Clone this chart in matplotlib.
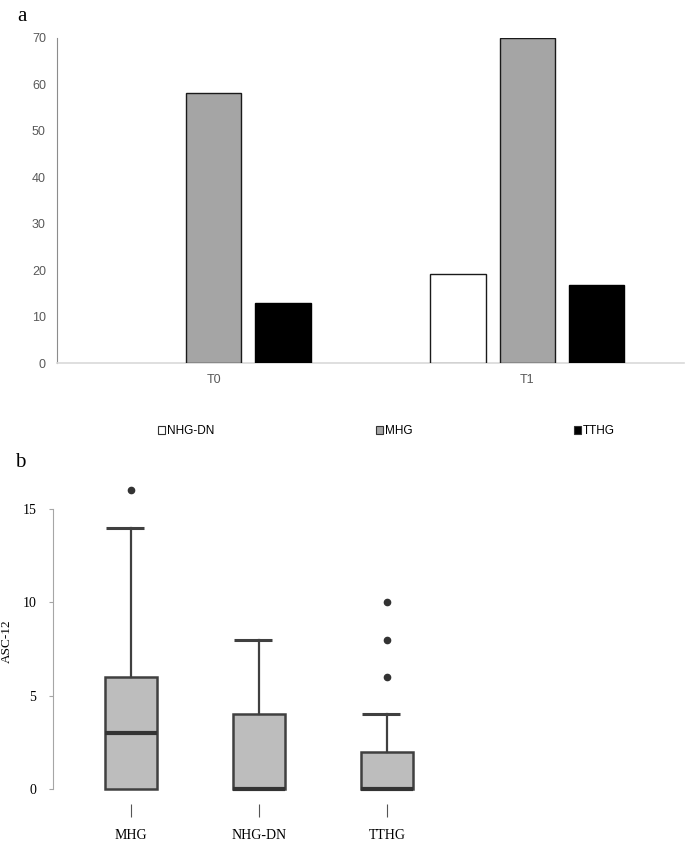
import numpy as np
import matplotlib.pyplot as plt
from matplotlib.patches import Patch

# panel a data
periods = ["T0", "T1"]
groups_a = ["NHG-DN", "MHG", "TTHG"]
nhg_dn = [0, 19.1]
mhg = [58.1, 70.0]
tthg = [13.0, 16.8]

# panel b data (box summaries)
groups_b = ["MHG", "NHG-DN", "TTHG"]
q1 = [0, 0, 0]
med = [3, 0, 0]
q3 = [6, 4, 2]
whis_lo = [0, 0, 0]
whis_hi = [14, 8, 4]
fliers = [[16], [], [6, 8, 10]]

sans = ["Liberation Sans", "DejaVu Sans"]
serif = ["Liberation Serif", "DejaVu Serif"]

fig = plt.figure(figsize=(6.85, 8.44), dpi=100)

# ---- panel a ----
ax = fig.add_axes([0.0832, 0.5699, 0.9153, 0.3851])
x = np.arange(len(periods))
w = 0.176
off = 0.221
fills = ["white", "#a5a5a5", "black"]
edges = ["#1a1a1a", "#1a1a1a", "black"]
series = [nhg_dn, mhg, tthg]
for i, (vals, fc, ec) in enumerate(zip(series, fills, edges)):
    lw = [1.0 if v > 0 else 0 for v in vals]
    ax.bar(x + (i - 1) * off, vals, width=w, color=fc, edgecolor=ec,
           linewidth=lw, label=groups_a[i], zorder=3)
ax.set_xlim(-0.5, 1.5)
ax.set_ylim(0, 70)
ax.set_yticks(range(0, 71, 10))
ax.set_xticks(x)
ax.set_xticklabels(periods)
for s in ["top", "right"]:
    ax.spines[s].set_visible(False)
ax.spines["left"].set_color("#8c8c8c")
ax.spines["bottom"].set_color("#d9d9d9")
ax.spines["bottom"].set_linewidth(1.2)
ax.tick_params(length=0, labelsize=9, labelcolor="#595959", pad=8)
for t in ax.get_xticklabels() + ax.get_yticklabels():
    t.set_family(sans)

handles = [Patch(facecolor=fc, edgecolor="#333333", linewidth=0.8) for fc in fills]
fig.legend(handles, groups_a, loc="center left", bbox_to_anchor=(0.231, 0.489),
           ncol=3, frameon=False, handlelength=0.6, handleheight=0.6,
           handletextpad=0.15, columnspacing=13.7, borderpad=0, borderaxespad=0,
           prop={"family": sans, "size": 8.5})

fig.text(0.025, 0.992, "a", family=serif, fontsize=15, va="top")
fig.text(0.022, 0.463, "b", family=serif, fontsize=15, va="top")

# ---- panel b ----
bx = fig.add_axes([0.0774, 0.0474, 0.92, 0.3939])
pos = np.arange(1, len(groups_b) + 1)
stats = []
for i, g in enumerate(groups_b):
    stats.append(dict(label=g, q1=q1[i], med=med[i], q3=q3[i],
                      whislo=whis_lo[i], whishi=whis_hi[i], fliers=fliers[i]))
line = "#404040"
bw = 0.405
bx.bxp(stats, positions=pos, widths=bw, patch_artist=True, showcaps=False,
       boxprops=dict(facecolor="#bdbdbd", edgecolor=line, linewidth=1.8),
       whiskerprops=dict(color=line, linewidth=1.6),
       medianprops=dict(color="#333333", linewidth=3),
       flierprops=dict(marker="o", markerfacecolor="#333333",
                       markeredgecolor="#333333", markersize=4.5))
# caps start at the box's left edge
for p, hi in zip(pos, whis_hi):
    bx.hlines(hi, p - bw / 2 + 0.01, p + 0.1, color=line, linewidth=2.2)

bx.set_xlim(0.393, 5.31)
bx.set_ylim(-0.8, 17)
bx.set_yticks([0, 5, 10, 15])
bx.spines["left"].set_bounds(0, 15)
bx.spines["left"].set_color("#a6a6a6")
for s in ["top", "right", "bottom"]:
    bx.spines[s].set_visible(False)
bx.tick_params(axis="y", length=3, color="#a6a6a6", labelsize=10, pad=9)
bx.tick_params(axis="x", length=9, color="#555555", labelsize=10, pad=9)
bx.set_xticks(pos)
bx.set_xticklabels(groups_b)
for t in bx.get_xticklabels() + bx.get_yticklabels():
    t.set_family(serif)
fig.text(0.0095, 1 - 641 / 844, "ASC-12", family=serif, fontsize=9.5,
         rotation=90, ha="center", va="center")

fig.savefig("out.png", dpi=100)
